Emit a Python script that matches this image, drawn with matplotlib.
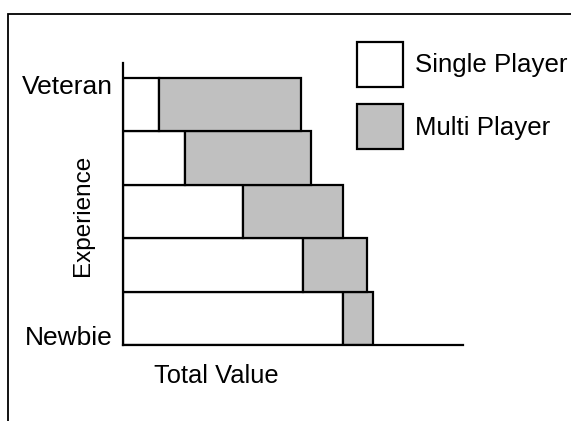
import matplotlib
matplotlib.use("Agg")
import matplotlib.pyplot as plt
from matplotlib.patches import Rectangle

plt.rcParams['font.family'] = ['Liberation Sans', 'DejaVu Sans']

# Data (bottom bar = Newbie, top bar = Veteran)
levels = ["Newbie", "Level 2", "Level 3", "Level 4", "Veteran"]
single_player = [64.6, 52.9, 35.4, 18.2, 10.6]
multi_player = [8.8, 18.8, 29.3, 37.1, 41.8]
tick_labels = ["Newbie", "Veteran"]
series_names = ["Single Player", "Multi Player"]

LW = 1.6

fig = plt.figure(figsize=(5.71, 4.21), dpi=100)
# outer frame (cut off at right and bottom as in reference)
fig.patches.append(Rectangle((8.3 / 571, -0.2), 1.2, 0.2 + (421 - 14) / 421,
                             transform=fig.transFigure, fill=False,
                             edgecolor='black', linewidth=1.3))

ax = fig.add_axes([123 / 571, (421 - 345.3) / 421, 340 / 571, 282 / 421])

ypos = [i + 0.5 for i in range(len(levels))]
b1 = ax.barh(ypos, single_player, height=1.0, color='white',
             edgecolor='black', linewidth=LW, label=series_names[0])
b2 = ax.barh(ypos, multi_player, left=single_player, height=1.0,
             color='#c0c0c0', edgecolor='black', linewidth=LW,
             label=series_names[1])

ax.set_xlim(0, 100)
ax.set_ylim(0, 5.27)
ax.spines['top'].set_visible(False)
ax.spines['right'].set_visible(False)
ax.spines['left'].set_linewidth(LW)
ax.spines['bottom'].set_linewidth(LW)
ax.set_xticks([])
ax.set_yticks([0, 4.7])
ax.set_yticklabels(tick_labels, fontsize=19)
ax.tick_params(axis='y', length=0, pad=7.4)
for lab in ax.get_yticklabels():
    lab.set_verticalalignment('baseline')

ax.set_xlabel("Total Value", fontsize=18.4, va='center')
ax.xaxis.set_label_coords(0.275, -0.110)
ax.set_ylabel("Experience", fontsize=17.5, va='center', ha='center')
ax.yaxis.set_label_coords(-0.119, 0.46)

ax.legend(handles=[b1, b2], loc='upper left',
          bbox_to_anchor=(356.7 / 571, (421 - 41.7) / 421),
          bbox_transform=fig.transFigure, frameon=False, fontsize=18.6,
          borderpad=0, borderaxespad=0, handlelength=1.79,
          handleheight=2.3, handletextpad=0.48, labelspacing=0.68)

fig.savefig("out.png", dpi=100)
